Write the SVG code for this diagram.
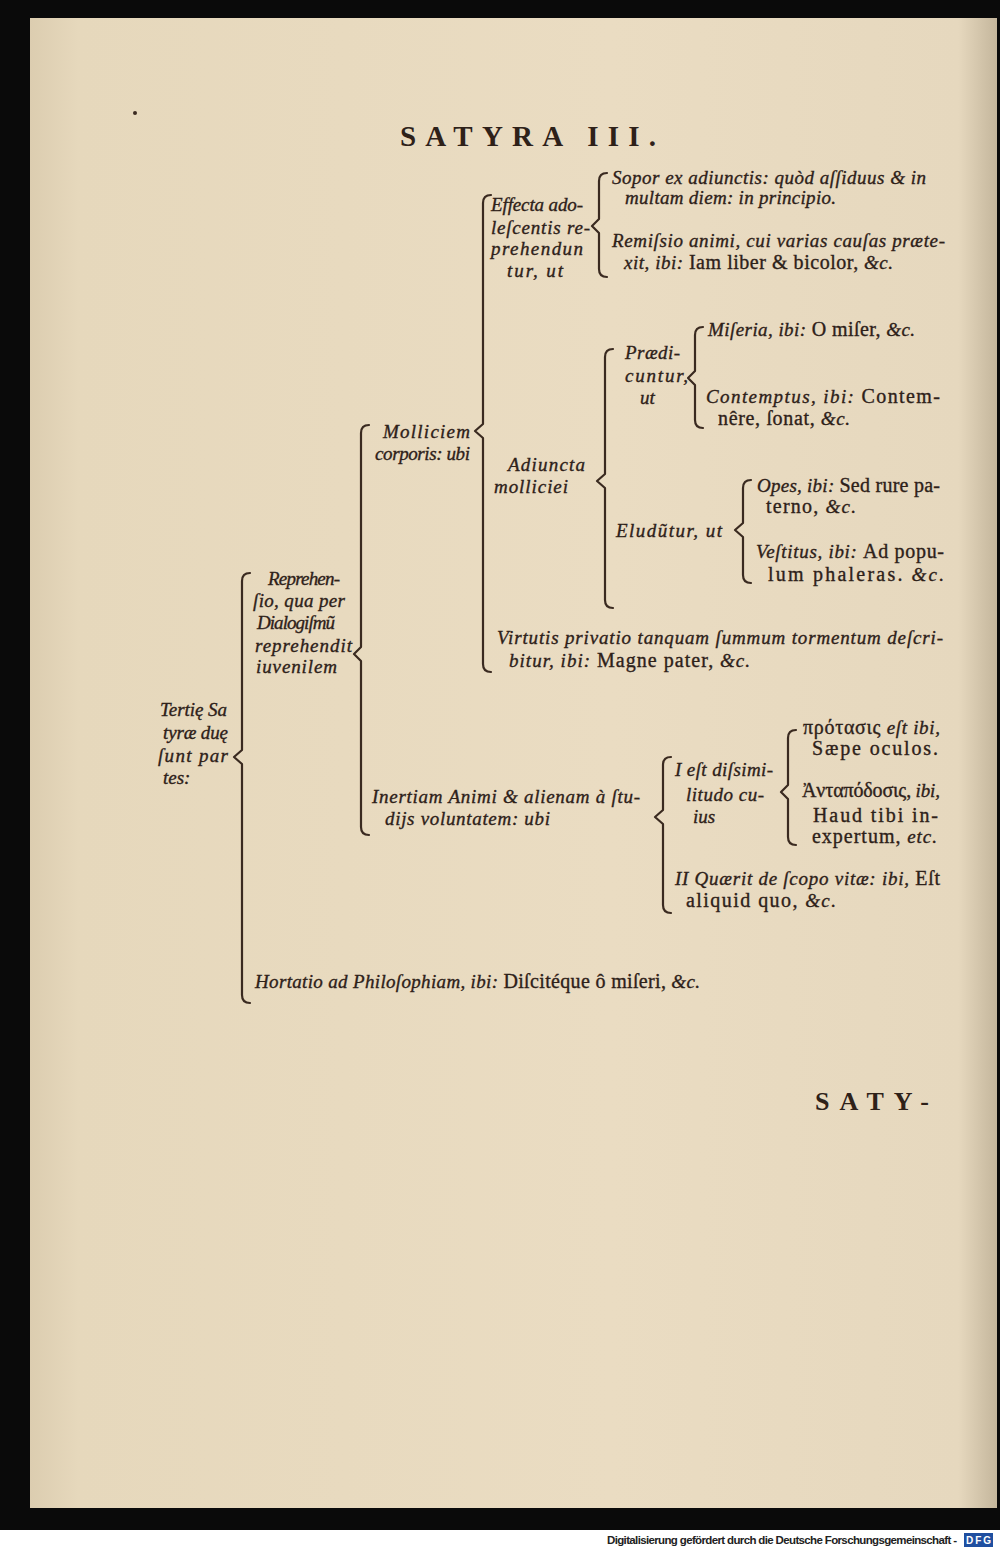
<svg xmlns="http://www.w3.org/2000/svg" width="1000" height="1549" viewBox="0 0 1000 1549">
<defs>
<linearGradient id="pg" x1="0" y1="0" x2="1" y2="0">
<stop offset="0" stop-color="#dccdb0"/>
<stop offset="0.05" stop-color="#e6d8bc"/>
<stop offset="0.6" stop-color="#eadcc2"/>
<stop offset="0.96" stop-color="#e6d8be"/>
<stop offset="1" stop-color="#c4b69c"/>
</linearGradient>
</defs>
<style>
.it{font-family:"Liberation Serif","DejaVu Serif",serif;font-style:italic;font-size:19px;fill:#2e2119;stroke:#2e2119;stroke-width:0.35;}
.rm{font-style:normal;font-size:20px;}
.cap{font-family:"Liberation Serif","DejaVu Serif",serif;font-weight:bold;fill:#2e2119;}
.br{fill:none;stroke:#3a2a20;stroke-width:2.2;stroke-linecap:round;stroke-linejoin:round;}
</style>
<rect x="0" y="0" width="1000" height="1549" fill="#0a0a0a"/>
<rect x="30" y="18" width="967" height="1490" fill="url(#pg)"/>
<rect x="0" y="1530" width="1000" height="19" fill="#ffffff"/>
<circle cx="135" cy="113" r="2" fill="#3a2a20"/>

<g id="title">
<text class="cap" x="400" y="146" font-size="29" letter-spacing="9" textLength="265">SATYRA III.</text>
</g>

<g id="connectors">
<path class="br" d="M250,573 Q242,573 242,581 L242,750 L234,757 L242,764 L242,995 Q242,1003 250,1003"/>
<path class="br" d="M369,425 Q361,425 361,433 L361,647 L354,654 L361,661 L361,827 Q361,835 369,835"/>
<path class="br" d="M491,195 Q483,195 483,203 L483,424 L475,431 L483,438 L483,664 Q483,672 491,672"/>
<path class="br" d="M607,173 Q599,173 599,181 L599,219 L592,226 L599,233 L599,269 Q599,277 607,277"/>
<path class="br" d="M613,349 Q605,349 605,357 L605,474 L597,481 L605,488 L605,600 Q605,608 613,608"/>
<path class="br" d="M703,327 Q695,327 695,335 L695,371 L688,378 L695,385 L695,420 Q695,428 703,428"/>
<path class="br" d="M751,480 Q743,480 743,488 L743,523 L735,530 L743,537 L743,575 Q743,583 751,583"/>
<path class="br" d="M671,757 Q663,757 663,765 L663,810 L655,817 L663,824 L663,905 Q663,913 671,913"/>
<path class="br" d="M796,730 Q788,730 788,738 L788,785 L781,792 L788,799 L788,837 Q788,845 796,845"/>
</g>

<g id="n-root"><text class="it">
<tspan x="160" y="716" textLength="67">Tertię Sa</tspan>
<tspan x="163" y="739" textLength="65">tyræ duę</tspan>
<tspan x="158" y="762" textLength="70">ſunt par</tspan>
<tspan x="163" y="784">tes:</tspan>
</text></g>

<g id="n-reprehensio"><text class="it">
<tspan x="268" y="585" textLength="72">Reprehen-</tspan>
<tspan x="253" y="607" textLength="92">ſio, qua per</tspan>
<tspan x="257" y="629" textLength="78">Dialogiſmũ</tspan>
<tspan x="255" y="652" textLength="97">reprehendit</tspan>
<tspan x="256" y="673" textLength="81">iuvenilem</tspan>
</text></g>

<g id="n-hortatio"><text class="it" x="255" y="988" textLength="445">Hortatio ad Philoſophiam, ibi: <tspan class="rm">Diſcitéque ô miſeri,</tspan> &amp;c.</text></g>

<g id="n-molliciem"><text class="it">
<tspan x="383" y="438" textLength="87">Molliciem</tspan>
<tspan x="375" y="460" textLength="95">corporis: ubi</tspan>
</text></g>

<g id="n-inertiam"><text class="it">
<tspan x="372" y="803" textLength="268">Inertiam Animi &amp; alienam à ſtu-</tspan>
<tspan x="385" y="825" textLength="165">dijs voluntatem: ubi</tspan>
</text></g>

<g id="n-effecta"><text class="it">
<tspan x="491" y="211" textLength="92">Effecta ado-</tspan>
<tspan x="491" y="234" textLength="99">leſcentis re-</tspan>
<tspan x="491" y="255" textLength="92">prehendun</tspan>
<tspan x="507" y="277" textLength="56">tur, ut</tspan>
</text></g>

<g id="n-sopor"><text class="it">
<tspan x="612" y="184" textLength="314">Sopor ex adiunctis: quòd aſſiduus &amp; in</tspan>
<tspan x="625" y="204" textLength="211">multam diem: in principio.</tspan>
</text></g>

<g id="n-remissio"><text class="it">
<tspan x="612" y="247" textLength="333">Remiſsio animi, cui varias cauſas præte-</tspan>
<tspan x="624" y="269" textLength="269">xit, ibi: <tspan class="rm">Iam liber &amp; bicolor,</tspan> &amp;c.</tspan>
</text></g>

<g id="n-adiuncta"><text class="it">
<tspan x="508" y="471" textLength="77">Adiuncta</tspan>
<tspan x="494" y="493" textLength="74">molliciei</tspan>
</text></g>

<g id="n-praedicuntur"><text class="it">
<tspan x="625" y="359" textLength="55">Prædi-</tspan>
<tspan x="625" y="382" textLength="63">cuntur,</tspan>
<tspan x="640" y="404">ut</tspan>
</text></g>

<g id="n-miseria"><text class="it" x="708" y="336" textLength="207">Miſeria, ibi: <tspan class="rm">O miſer,</tspan> &amp;c.</text></g>

<g id="n-contemptus"><text class="it">
<tspan x="706" y="403" textLength="234">Contemptus, ibi: <tspan class="rm">Contem-</tspan></tspan>
<tspan x="718" y="425" textLength="132"><tspan class="rm">nêre, ſonat,</tspan> &amp;c.</tspan>
</text></g>

<g id="n-eludutur"><text class="it" x="616" y="537" textLength="106">Eludũtur, ut</text></g>

<g id="n-opes"><text class="it">
<tspan x="757" y="492" textLength="183">Opes, ibi: <tspan class="rm">Sed rure pa-</tspan></tspan>
<tspan x="766" y="513" textLength="90"><tspan class="rm">terno,</tspan> &amp;c.</tspan>
</text></g>

<g id="n-vestitus"><text class="it">
<tspan x="756" y="558" textLength="188">Veſtitus, ibi: <tspan class="rm">Ad popu-</tspan></tspan>
<tspan x="768" y="581" textLength="176"><tspan class="rm">lum phaleras.</tspan> &amp;c.</tspan>
</text></g>

<g id="n-virtutis"><text class="it">
<tspan x="497" y="644" textLength="446">Virtutis privatio tanquam ſummum tormentum deſcri-</tspan>
<tspan x="509" y="667" textLength="241">bitur, ibi: <tspan class="rm">Magne pater,</tspan> &amp;c.</tspan>
</text></g>

<g id="n-dissimilitudo"><text class="it">
<tspan x="675" y="776" textLength="98">I eſt diſsimi-</tspan>
<tspan x="686" y="801" textLength="78">litudo cu-</tspan>
<tspan x="693" y="823">ius</tspan>
</text></g>

<g id="n-protasis"><text class="it">
<tspan x="803" y="734" textLength="137"><tspan class="rm">πρότασις</tspan> eſt ibi,</tspan>
<tspan x="812" y="755" textLength="126" class="rm">Sæpe oculos.</tspan>
</text></g>

<g id="n-antapodosis"><text class="it">
<tspan x="802" y="797" textLength="138"><tspan class="rm">Ἀνταπόδοσις,</tspan> ibi,</tspan>
<tspan x="813" y="822" textLength="125" class="rm">Haud tibi in-</tspan>
<tspan x="812" y="843" textLength="125"><tspan class="rm">expertum,</tspan> etc.</tspan>
</text></g>

<g id="n-quaerit"><text class="it">
<tspan x="675" y="885" textLength="265">II  Quærit de ſcopo vitæ: ibi, <tspan class="rm">Eſt</tspan></tspan>
<tspan x="686" y="907" textLength="150"><tspan class="rm">aliquid quo,</tspan> &amp;c.</tspan>
</text></g>

<g id="catchword">
<text class="cap" x="815" y="1110" font-size="26" letter-spacing="6" font-weight="normal" textLength="120">SATY-</text>
</g>

<g id="footer">
<text x="607" y="1544" font-family="Liberation Sans, Arial, sans-serif" font-size="11.5" font-weight="bold" fill="#222" textLength="350">Digitalisierung gefördert durch die Deutsche Forschungsgemeinschaft -</text>
<rect x="964" y="1533" width="29" height="14" fill="#1f4fa0"/>
<text x="966" y="1544" font-family="Liberation Sans, Arial, sans-serif" font-size="10" font-weight="bold" fill="#ffffff" textLength="25">DFG</text>
</g>
</svg>
